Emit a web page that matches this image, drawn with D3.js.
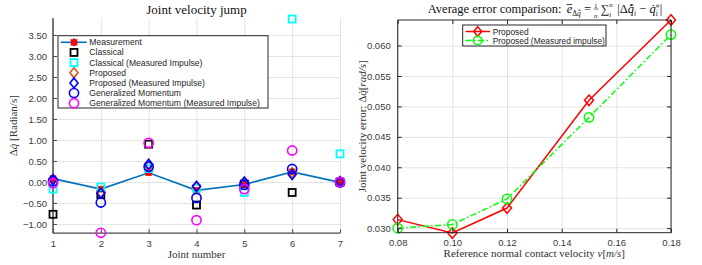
<!DOCTYPE html>
<html><head><meta charset="utf-8">
<script src="https://cdn.jsdelivr.net/npm/d3@7"></script>
<style>
body{margin:0;background:#fff;}
svg{display:block;}
.tick text{font-family:"Liberation Sans",Arial,sans-serif;font-size:9.5px;fill:#3a3a3a;}
.serif{font-family:"Liberation Serif","Times New Roman",serif;}
.pre text{white-space:pre;}
</style></head>
<body>
<svg id="c" width="702" height="265"></svg>
<script>
// ---------- Left chart data ----------
const joints = [1, 2, 3, 4, 5, 6, 7];
const measurement   = [0.08, -0.17, 0.22, -0.20, -0.06, 0.24, -0.01];
const measErr       = [0.05, 0.04, 0.04, 0.04, 0.03, 0.04, 0.03];
const classical     = [-0.77, -0.30, 0.90, -0.55, -0.05, -0.25, 0.00];
const classicalMI   = [-0.17, -0.12, 0.32, -0.15, -0.25, 3.88, 0.67];
const proposed      = [0.05, -0.25, 0.38, -0.12, -0.03, 0.22, 0.00];
const proposedMI    = [0.06, -0.27, 0.42, -0.10, 0.00, 0.18, 0.01];
const genMomentum   = [0.02, -0.49, 0.36, -0.38, -0.07, 0.31, -0.01];
const genMomentumMI = [-0.03, -1.21, 0.93, -0.91, -0.17, 0.75, 0.00];
const leftYTicks = [-1.0, -0.5, 0.0, 0.5, 1.0, 1.5, 2.0, 2.5, 3.0, 3.5];
const leftLegend = ["Measurement", "Classical", "Classical (Measured Impulse)", "Proposed",
  "Proposed (Measured Impulse)", "Generalized Momentum", "Generalized Momentum (Measured Impulse)"];

// ---------- Right chart data ----------
const velocities  = [0.08, 0.10, 0.12, 0.15, 0.18];
const errProposed = [0.0314, 0.0292, 0.0333, 0.0510, 0.0642];
const errMeasured = [0.0300, 0.0306, 0.0348, 0.0482, 0.0618];
const rightXTicks = [0.08, 0.10, 0.12, 0.14, 0.16, 0.18];
const rightYTicks = [0.030, 0.035, 0.040, 0.045, 0.050, 0.055, 0.060];
const rightLegend = ["Proposed", "Proposed (Measured impulse)"];

const svg = d3.select("#c");
const GRID = "#e3e3e3", AX = "#4a4a4a";

// ================= LEFT =================
const L = {x0: 53, x1: 340, y0: 18.2, y1: 233.2};
const xl = d3.scaleLinear().domain([1, 7]).range([L.x0, L.x1]);
const yl = d3.scaleLinear().domain([-1.22, 3.9]).range([L.y1, L.y0]);
const gl = svg.append("g");

gl.append("g").attr("transform", `translate(0,${L.y1})`)
  .call(d3.axisBottom(xl).tickValues(joints).tickSize(-(L.y1 - L.y0)).tickFormat(""))
  .call(g => { g.select(".domain").remove(); g.selectAll("line").attr("stroke", GRID); });
gl.append("g").attr("transform", `translate(${L.x0},0)`)
  .call(d3.axisLeft(yl).tickValues(leftYTicks).tickSize(-(L.x1 - L.x0)).tickFormat(""))
  .call(g => { g.select(".domain").remove(); g.selectAll("line").attr("stroke", GRID); });
gl.append("g").attr("transform", `translate(0,${L.y1})`)
  .call(d3.axisBottom(xl).tickValues(joints).tickSize(-4).tickPadding(7).tickFormat(d3.format("d")))
  .call(g => { g.select(".domain").attr("stroke", AX).attr("stroke-width", 1.2).attr("d", `M${L.x0},0H${L.x1}`); g.selectAll("line").attr("stroke", AX); });
gl.append("g").attr("transform", `translate(${L.x0},0)`)
  .call(d3.axisLeft(yl).tickValues(leftYTicks).tickSize(-4).tickPadding(6).tickFormat(d3.format(".2f")))
  .call(g => { g.select(".domain").attr("stroke", AX).attr("stroke-width", 1.5).attr("d", `M0,${L.y0}V${L.y1}`); g.selectAll("line").attr("stroke", AX); });

function square(g, x, y, s, stroke, fill, sw) {
  g.append("rect").attr("x", x - s / 2).attr("y", y - s / 2).attr("width", s).attr("height", s)
    .attr("fill", fill).attr("stroke", stroke).attr("stroke-width", sw);
}
function diamond(g, x, y, w, h, stroke, sw) {
  g.append("path").attr("d", `M${x},${y - h / 2}L${x + w / 2},${y}L${x},${y + h / 2}L${x - w / 2},${y}Z`)
    .attr("fill", "none").attr("stroke", stroke).attr("stroke-width", sw);
}
function circle(g, x, y, r, stroke, sw) {
  g.append("circle").attr("cx", x).attr("cy", y).attr("r", r).attr("fill", "none")
    .attr("stroke", stroke).attr("stroke-width", sw);
}

const BLUE = "#0072BD";
const dl = gl.append("g");
dl.append("path").datum(joints.map((j, i) => [j, measurement[i]]))
  .attr("d", d3.line().x(d => xl(d[0])).y(d => yl(d[1])))
  .attr("fill", "none").attr("stroke", BLUE).attr("stroke-width", 1.6);
joints.forEach((j, i) => {
  dl.append("line").attr("x1", xl(j)).attr("x2", xl(j))
    .attr("y1", yl(measurement[i] - measErr[i])).attr("y2", yl(measurement[i] + measErr[i]))
    .attr("stroke", BLUE).attr("stroke-width", 1.6);
  square(dl, xl(j), yl(measurement[i]), 6, "#ff0000", "#ff0000", 0.5);
});
const series = [
  {v: classical, type: "sq", c: "#000000"},
  {v: classicalMI, type: "sq", c: "#00ffff"},
  {v: proposed, type: "di", c: "#D95319"},
  {v: proposedMI, type: "di", c: "#0000ff"},
  {v: genMomentum, type: "ci", c: "#0000ff"},
  {v: genMomentumMI, type: "ci", c: "#ff00ff"}
];
function drawMarker(g, type, x, y, c) {
  if (type === "sq") square(g, x, y, 7, c, "none", 1.8);
  else if (type === "di") diamond(g, x, y, 8, 10, c, 1.6);
  else circle(g, x, y, 4.6, c, 1.6);
}
series.forEach(s => joints.forEach((j, i) => drawMarker(dl, s.type, xl(j), yl(s.v[i]), s.c)));

const lg = gl.append("g");
lg.append("rect").attr("x", 58).attr("y", 35.7).attr("width", 210).attr("height", 72.3)
  .attr("fill", "#fff").attr("stroke", "#262626").attr("stroke-width", 1);
const rowY = i => 42.3 + i * 10.15;
leftLegend.forEach((t, i) => {
  const y = rowY(i);
  if (i === 0) {
    lg.append("line").attr("x1", 60.7).attr("x2", 86.7).attr("y1", y).attr("y2", y).attr("stroke", BLUE).attr("stroke-width", 1.6);
    lg.append("line").attr("x1", 74).attr("x2", 74).attr("y1", y - 4).attr("y2", y + 4).attr("stroke", BLUE).attr("stroke-width", 1.6);
    square(lg, 74, y, 6, "#ff0000", "#ff0000", 0.5);
  } else {
    const s = series[i - 1];
    drawMarker(lg, s.type, 74, y, s.c);
  }
  lg.append("text").attr("x", 89.3).attr("y", y + 3).text(t)
    .attr("font-family", "Liberation Sans, Arial, sans-serif").attr("font-size", "8.6px").attr("fill", "#262626");
});

svg.append("text").attr("class", "serif").attr("x", 196.5).attr("y", 14).attr("text-anchor", "middle")
  .attr("font-size", "13px").attr("fill", "#111").text("Joint velocity jump");
svg.append("text").attr("class", "serif").attr("x", 196.5).attr("y", 258).attr("text-anchor", "middle")
  .attr("font-size", "11px").attr("fill", "#333").text("Joint number");
{
  const t = svg.append("text").attr("class", "serif").attr("transform", `translate(17,${(L.y0 + L.y1) / 2}) rotate(-90)`)
    .attr("text-anchor", "middle").attr("font-size", "11px").attr("fill", "#333");
  t.append("tspan").text("Δ");
  t.append("tspan").attr("font-style", "italic").text("q\u0307");
  t.append("tspan").text(" [Radian/s]");
}

// ================= RIGHT =================
const R = {x0: 397.7, x1: 671, y0: 20, y1: 232.7};
const xr = d3.scaleLinear().domain([0.08, 0.18]).range([R.x0, R.x1]);
const yr = d3.scaleLinear().domain([0.02925, 0.0642]).range([R.y1, R.y0]);
const gr = svg.append("g");
gr.append("g").attr("transform", `translate(0,${R.y1})`)
  .call(d3.axisBottom(xr).tickValues(rightXTicks).tickSize(-(R.y1 - R.y0)).tickFormat(""))
  .call(g => { g.select(".domain").remove(); g.selectAll("line").attr("stroke", GRID); });
gr.append("g").attr("transform", `translate(${R.x0},0)`)
  .call(d3.axisLeft(yr).tickValues(rightYTicks).tickSize(-(R.x1 - R.x0)).tickFormat(""))
  .call(g => { g.select(".domain").remove(); g.selectAll("line").attr("stroke", GRID); });

const dr = gr.append("g");
const lineR = d3.line().x(d => xr(d[0])).y(d => yr(d[1]));
dr.append("path").datum(velocities.map((v, i) => [v, errProposed[i]])).attr("d", lineR)
  .attr("fill", "none").attr("stroke", "#ff0000").attr("stroke-width", 1.5);
dr.append("path").datum(velocities.map((v, i) => [v, errMeasured[i]])).attr("d", lineR)
  .attr("fill", "none").attr("stroke", "#00ff00").attr("stroke-width", 1.5).attr("stroke-dasharray", "6,2.5,1.5,2.5");
velocities.forEach((v, i) => diamond(dr, xr(v), yr(errProposed[i]), 9, 10.5, "#ff0000", 1.5));
velocities.forEach((v, i) => circle(dr, xr(v), yr(errMeasured[i]), 4.7, "#00ff00", 1.5));

const BK = "#262626";
gr.append("g").attr("transform", `translate(0,${R.y1})`)
  .call(d3.axisBottom(xr).tickValues(rightXTicks).tickSize(-4).tickPadding(7).tickFormat(d3.format(".2f")))
  .call(g => { g.select(".domain").attr("stroke", BK).attr("d", `M${R.x0},0H${R.x1}`); g.selectAll("line").attr("stroke", BK); });
gr.append("g").attr("transform", `translate(0,${R.y0})`)
  .call(d3.axisTop(xr).tickValues(rightXTicks).tickSize(-4).tickFormat(""))
  .call(g => { g.select(".domain").attr("stroke", BK).attr("d", `M${R.x0},0H${R.x1}`); g.selectAll("line").attr("stroke", BK); });
gr.append("g").attr("transform", `translate(${R.x0},0)`)
  .call(d3.axisLeft(yr).tickValues(rightYTicks).tickSize(-4).tickPadding(7).tickFormat(d3.format(".3f")))
  .call(g => { g.select(".domain").attr("stroke", BK).attr("d", `M0,${R.y0}V${R.y1}`); g.selectAll("line").attr("stroke", BK); });
gr.append("g").attr("transform", `translate(${R.x1},0)`)
  .call(d3.axisRight(yr).tickValues(rightYTicks).tickSize(-4).tickFormat(""))
  .call(g => { g.select(".domain").attr("stroke", BK).attr("d", `M0,${R.y0}V${R.y1}`); g.selectAll("line").attr("stroke", BK); });

const rg = gr.append("g");
rg.append("rect").attr("x", 462.7).attr("y", 25).attr("width", 143.3).attr("height", 21)
  .attr("fill", "#fff").attr("stroke", "#262626").attr("stroke-width", 1);
[0, 1].forEach(i => {
  const y = 31.5 + i * 9;
  const ln = rg.append("line").attr("x1", 465.5).attr("x2", 490).attr("y1", y).attr("y2", y)
    .attr("stroke", i === 0 ? "#ff0000" : "#00ff00").attr("stroke-width", 1.5);
  if (i === 0) diamond(rg, 477.7, y, 8, 9.5, "#ff0000", 1.5);
  else { ln.attr("stroke-dasharray", "6,2.5,1.5,2.5"); circle(rg, 477.7, y, 4.3, "#00ff00", 1.5); }
  rg.append("text").attr("x", 492.7).attr("y", y + 3).text(rightLegend[i])
    .attr("font-family", "Liberation Sans, Arial, sans-serif").attr("font-size", "8.4px").attr("fill", "#262626");
});

{
  const t = svg.append("text").attr("class", "serif").attr("x", 534.3).attr("y", 257).attr("text-anchor", "middle")
    .attr("font-size", "11px").attr("fill", "#333");
  t.append("tspan").text("Reference normal contact velocity ");
  t.append("tspan").attr("font-style", "italic").text("v");
  t.append("tspan").text("[");
  t.append("tspan").attr("font-style", "italic").text("m/s");
  t.append("tspan").text("]");
}
{
  const t = svg.append("text").attr("class", "serif").attr("transform", `translate(366,${(R.y0 + R.y1) / 2}) rotate(-90)`)
    .attr("text-anchor", "middle").attr("font-size", "11px").attr("fill", "#333");
  t.append("tspan").text("Joint velocity error: Δ");
  t.append("tspan").attr("font-style", "italic").text("q\u0307");
  t.append("tspan").text("[");
  t.append("tspan").attr("font-style", "italic").text("rad/s");
  t.append("tspan").text("]");
}
// right title, laid out piece by piece
{
  const g = svg.append("g").attr("class", "serif pre").attr("fill", "#111");
  const base = 13;
  let x = 0;
  const put = (txt, opt = {}) => {
    const t = g.append("text").attr("x", x).attr("y", base + (opt.dy || 0))
      .attr("font-size", (opt.size || 12.5) + "px").text(txt);
    if (opt.it) t.attr("font-style", "italic");
    const w = t.node().getComputedTextLength();
    if (!opt.noadv) x += w;
    return {t, w};
  };
  put("Average error comparison: ");
  x += 2;
  const e = put("e", {it: true});
  g.append("line").attr("x1", x - e.w).attr("x2", x).attr("y1", base - 8.5).attr("y2", base - 8.5).attr("stroke", "#111").attr("stroke-width", 0.8);
  put("Δ", {size: 7.5, dy: 3});
  put("q\u0302\u0307", {size: 7.5, dy: 3, it: true});
  put(" = ");
  const x0 = x;
  put("1", {size: 7, dy: -5.5, noadv: true});
  put("n", {size: 7, dy: 4.5, it: true, noadv: true});
  g.append("line").attr("x1", x0 - 0.5).attr("x2", x0 + 4.5).attr("y1", base - 4).attr("y2", base - 4).attr("stroke", "#111").attr("stroke-width", 0.6);
  x += 6.5;
  put("∑", {size: 12});
  const xs = x;
  put("n", {size: 7, dy: -6, it: true, noadv: true});
  put("i", {size: 7, dy: 3.5, it: true});
  x = xs + 5;
  put(" |Δ");
  put("q\u0302\u0307", {it: true});
  put("i", {size: 7.5, dy: 3, it: true});
  put(" − ");
  put("q\u0307", {it: true});
  const xs2 = x;
  g.append("circle").attr("cx", xs2 + 2).attr("cy", base - 7).attr("r", 1.2).attr("fill", "none").attr("stroke", "#111").attr("stroke-width", 0.6);
  put("i", {size: 7.5, dy: 3, it: true});
  x = Math.max(x, xs2 + 4);
  put("|");
  const total = x;
  g.attr("transform", `translate(${545 - total / 2},0)`);
}
</script>
</body></html>
